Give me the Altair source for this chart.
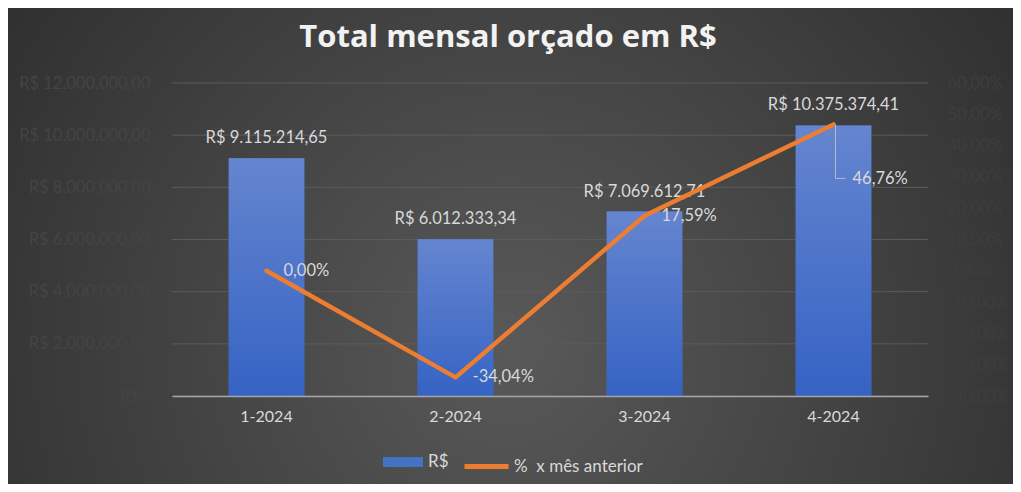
import altair as alt
import pandas as pd

titulo = "Total mensal orçado em R$"
meses = ["1-2024", "2-2024", "3-2024", "4-2024"]
valores = [9115214.65, 6012333.34, 7069612.71, 10375374.41]
variacao = [0.0, -0.3404, 0.1759, 0.4676]
ticks_valor = [0, 2000000, 4000000, 6000000, 8000000, 10000000, 12000000]
ticks_pct = [-0.4, -0.3, -0.2, -0.1, 0.0, 0.1, 0.2, 0.3, 0.4, 0.5, 0.6]
serie_barra = "R$"
serie_linha = "%\u00a0 x mês anterior"

df = pd.DataFrame({"mes": meses, "valor": valores, "pct": variacao})
df["s1"] = serie_barra
df["s2"] = serie_linha

W, H = 756, 313
PAD = {"left": 164, "top": 75, "right": 85, "bottom": 88}
FONT = "Lato"
TXT = "#d9d9d9"
FS = 16.5

bg_grad = {
    "gradient": "radial",
    "x1": 0.5, "y1": 0.6, "r1": 0,
    "x2": 0.5, "y2": 0.6, "r2": 0.75,
    "stops": [
        {"offset": 0, "color": "#595959"},
        {"offset": 1, "color": "#262626"},
    ],
}
bar_grad = {
    "gradient": "linear",
    "x1": 0, "y1": 0, "x2": 0, "y2": 1,
    "stops": [
        {"offset": 0, "color": "#6585cf"},
        {"offset": 1, "color": "#3563c4"},
    ],
}

xscale = alt.Scale(domain=meses, paddingInner=0.6, paddingOuter=0.3)
yscale = alt.Scale(domain=[0, 12000000])
pscale = alt.Scale(domain=[-0.4, 0.6])

X_NOAXIS = alt.X("mes:N", sort=meses, scale=xscale, axis=None)

bg = alt.Chart(pd.DataFrame({"k": [0]})).mark_rect(fill=bg_grad).encode(
    x=alt.value(-PAD["left"]), x2=alt.value(W + PAD["right"]),
    y=alt.value(-PAD["top"]), y2=alt.value(H + PAD["bottom"]),
)

title = alt.Chart(pd.DataFrame({"t": [titulo]})).mark_text(
    font="Open Sans", fontSize=31, fontWeight="bold", color="#f2f2f2",
    align="center", baseline="alphabetic",
).encode(x=alt.value(W / 2 - 42), y=alt.value(-36), text="t:N")

grid = alt.Chart(pd.DataFrame({"g": ticks_valor})).mark_rule(
    color="#5b5b5b", strokeWidth=1
).encode(y=alt.Y("g:Q", scale=yscale, axis=None))

bars_legend = alt.Chart(df).mark_bar().encode(
    x=alt.X("mes:N", sort=meses, scale=xscale, title=None,
            axis=alt.Axis(labelAngle=0, labelColor=TXT, labelFont=FONT, labelFontSize=16,
                          labelPadding=12, ticks=False, tickSize=0, domain=True,
                          domainColor="#a6a6a6", domainWidth=1.3, grid=False, zindex=1)),
    y=alt.Y("valor:Q", scale=yscale, title=None,
            axis=alt.Axis(values=ticks_valor, format="$,.2f",
                          labelExpr="datum.value == 0 ? 'R$ -\u00a0\u00a0' : datum.label",
                          labelColor="#444444", labelFont=FONT, labelFontSize=FS,
                          labelPadding=22, ticks=False, tickSize=0, domain=False,
                          grid=False, zindex=1)),
    color=alt.Color("s1:N", scale=alt.Scale(domain=[serie_barra], range=["#4472c4"]),
                    legend=alt.Legend(title=None, orient="none", legendX=211, legendY=359,
                                      symbolType="M-1,-0.25H1V0.25H-1Z", symbolSize=1600,
                                      symbolStrokeWidth=0, labelColor=TXT, labelFont=FONT,
                                      labelFontSize=17, labelOffset=5)),
)

bars = alt.Chart(df).mark_bar(fill=bar_grad).encode(
    x=X_NOAXIS,
    y=alt.Y("valor:Q", scale=yscale, axis=None),
)

bar_labels = alt.Chart(df).mark_text(
    dy=-20, baseline="middle", align="center", color=TXT, font=FONT, fontSize=FS
).encode(
    x=X_NOAXIS,
    y=alt.Y("valor:Q", scale=yscale, axis=None),
    text=alt.Text("valor:Q", format="$,.2f"),
)

line = alt.Chart(df).mark_line(strokeWidth=4.5, strokeCap="round", strokeJoin="round").encode(
    x=X_NOAXIS,
    y=alt.Y("pct:Q", scale=pscale, title=None,
            axis=alt.Axis(orient="right", values=ticks_pct, format=".2%",
                          labelColor="#3e3e3e", labelFont=FONT, labelFontSize=FS,
                          labelPadding=19, ticks=False, tickSize=0, domain=False,
                          grid=False, zindex=1)),
    stroke=alt.Stroke("s2:N", scale=alt.Scale(domain=[serie_linha], range=["#ed7d31"]),
                      legend=alt.Legend(title=None, orient="none", legendX=290, legendY=359,
                                        symbolType="stroke", symbolSize=1936,
                                        symbolStrokeWidth=5, labelColor=TXT, labelFont=FONT,
                                        labelFontSize=17, labelOffset=3)),
)

pct_labels = alt.Chart(df).transform_filter(f"datum.mes != '{meses[-1]}'").mark_text(
    dx=17, baseline="middle", align="left", color=TXT, font=FONT, fontSize=FS
).encode(
    x=X_NOAXIS,
    y=alt.Y("pct:Q", scale=pscale, axis=None),
    text=alt.Text("pct:Q", format=".2%"),
)

last = alt.Chart(df).transform_filter(f"datum.mes == '{meses[-1]}'")

last_label = last.mark_text(
    dx=19, dy=55, baseline="middle", align="left", color=TXT, font=FONT, fontSize=FS
).encode(
    x=X_NOAXIS,
    y=alt.Y("pct:Q", scale=pscale, axis=None),
    text=alt.Text("pct:Q", format=".2%"),
)

leader_v = last.mark_rule(color="#c8c8c8", strokeWidth=1, opacity=0.8, xOffset=2, y2Offset=54).encode(
    x=X_NOAXIS,
    y=alt.Y("pct:Q", scale=pscale, axis=None),
    y2=alt.Y2("pct:Q"),
)

leader_h = last.mark_rule(color="#c8c8c8", strokeWidth=1, opacity=0.8, xOffset=2, x2Offset=12, yOffset=54, y2Offset=54).encode(
    x=X_NOAXIS,
    x2=alt.X2("mes:N"),
    y=alt.Y("pct:Q", scale=pscale, axis=None),
)

chart = alt.layer(
    bg, title, grid, bars_legend, bars, bar_labels,
    line, leader_v, leader_h, pct_labels, last_label,
).resolve_scale(x="independent", y="independent").properties(
    width=W, height=H,
    padding=PAD,
    autosize=alt.AutoSizeParams(type="none"),
    background="#2b2b2b",
).configure(
    locale={"number": {"decimal": ",", "thousands": ".", "grouping": [3],
                       "currency": ["R$ ", ""], "minus": "-"}},
).configure_view(stroke=None)

chart.save("out.html", embed_options={"renderer": "svg", "actions": False})
